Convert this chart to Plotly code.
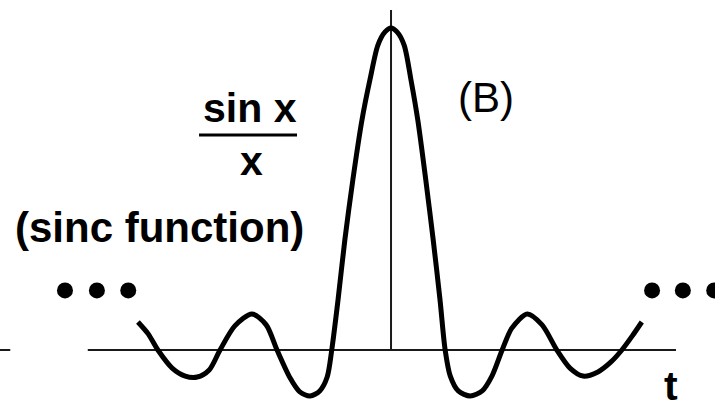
import plotly.graph_objects as go

# Sinc-like curve (t in lobe units, amplitude normalised to peak = 1)
curve_t = [-4.44, -4.26, -4.09, -3.84, -3.61, -3.40, -3.19, -3.00, -2.74, -2.44, -2.19, -2.00,
           -1.77, -1.60, -1.42, -1.25, -1.12, -1.04, -0.93, -0.81, -0.67, -0.51, -0.37, -0.23,
           -0.105, 0.0, 0.105, 0.23, 0.35, 0.47, 0.61, 0.74, 0.86, 0.95, 1.04, 1.18, 1.39,
           1.60, 1.77, 1.95, 2.12, 2.39, 2.65, 2.91, 3.14, 3.37, 3.63, 3.86, 4.05, 4.23, 4.40]
curve_amp = [0.087, 0.050, 0.0, -0.056, -0.081, -0.084, -0.062, 0.0, 0.075, 0.112, 0.078, 0.0,
             -0.087, -0.130, -0.143, -0.127, -0.084, 0.0, 0.155, 0.342, 0.528, 0.714, 0.839, 0.947,
             0.988, 1.0, 0.988, 0.947, 0.839, 0.714, 0.528, 0.342, 0.155, 0.0, -0.081, -0.127, -0.143,
             -0.127, -0.081, 0.0, 0.068, 0.112, 0.078, 0.0, -0.056, -0.081, -0.068, -0.037, 0.0, 0.043, 0.087]

# Axes drawn in the picture
axis_t = [-5.32, 5.0]
axis_stub_t = [-6.86, -6.68]
vertical_top = 1.056

# Ellipsis dots on both sides
dots_left_t = [-5.72, -5.16, -4.61]
dots_right_t = [4.58, 5.12, 5.67]
dots_amp = 0.185

# Labels
label_sin = "sin x"
label_den = "x"
label_sinc = "(sinc function)"
label_b = "(B)"
label_t = "t"

X_RANGE = [-6.860, 5.684]
Y_RANGE = [-0.1739, 1.0870]

FONT = "Arial, Liberation Sans, sans-serif"

fig = go.Figure()

# horizontal axis
fig.add_trace(go.Scatter(x=axis_t, y=[0, 0], mode="lines",
                         line=dict(color="#1a1a1a", width=2), hoverinfo="skip"))
fig.add_trace(go.Scatter(x=axis_stub_t, y=[0, 0], mode="lines",
                         line=dict(color="#1a1a1a", width=2), hoverinfo="skip"))
# vertical axis
fig.add_trace(go.Scatter(x=[0, 0], y=[0, vertical_top], mode="lines",
                         line=dict(color="#1a1a1a", width=2), hoverinfo="skip"))

# sinc curve
fig.add_trace(go.Scatter(x=curve_t, y=curve_amp, mode="lines",
                         line=dict(color="black", width=5, shape="spline", smoothing=0.8),
                         hoverinfo="skip"))

# dots
fig.add_trace(go.Scatter(x=dots_left_t + dots_right_t, y=[dots_amp] * 6, mode="markers",
                         marker=dict(color="black", size=16), hoverinfo="skip"))

# fraction bar
fig.add_trace(go.Scatter(x=[-3.368, -1.649], y=[0.668, 0.668], mode="lines",
                         line=dict(color="black", width=3), hoverinfo="skip"))

ann = [
    dict(text="<b>%s</b>" % label_sin, x=-2.474, y=0.752, size=41),
    dict(text="<b>%s</b>" % label_den, x=-2.456, y=0.587, size=41),
    dict(text="<b>%s</b>" % label_sinc, x=-4.07, y=0.379, size=42),
    dict(text=label_b, x=1.667, y=0.785, size=42),
    dict(text="<b>%s</b>" % label_t, x=4.912, y=-0.112, size=41),
]
for a in ann:
    fig.add_annotation(x=a["x"], y=a["y"], text=a["text"], showarrow=False,
                       xanchor="center", yanchor="middle",
                       font=dict(family=FONT, size=a["size"], color="black"))

fig.update_layout(
    width=715, height=406,
    margin=dict(l=0, r=0, t=0, b=0),
    paper_bgcolor="white", plot_bgcolor="white",
    showlegend=False,
    xaxis=dict(range=X_RANGE, visible=False, fixedrange=True),
    yaxis=dict(range=Y_RANGE, visible=False, fixedrange=True),
)

fig.write_html("out.html", config={"displayModeBar": False},
               post_script="document.body.style.margin='0px';document.body.style.overflow='hidden';")
